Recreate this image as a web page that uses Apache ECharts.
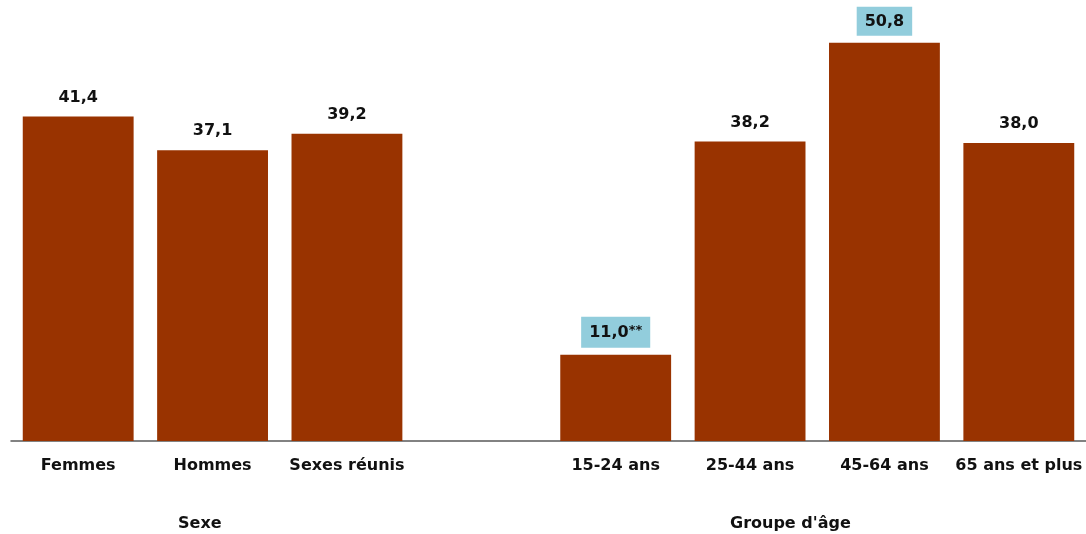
<!DOCTYPE html>
<html>
<head>
<meta charset="utf-8">
<script src="https://cdn.jsdelivr.net/npm/echarts@6/dist/echarts.min.js"></script>
<style>
  html, body { margin: 0; padding: 0; background: #fff; }
  #chart { width: 1086px; height: 534px; }
</style>
</head>
<body>
<div id="chart"></div>
<script>
// catégories (slot vide entre les deux groupes)
const categories = ['Femmes', 'Hommes', 'Sexes réunis', '', '15-24 ans', '25-44 ans', '45-64 ans', '65 ans et plus']
const values = [41.4, 37.1, 39.2, null, 11.0, 38.2, 50.8, 38.0]
// étiquettes surlignées en bleu
const highlighted = [false, false, false, false, true, false, true, false]
const notes = ['', '', '', '', '**', '', '', '']
const groupLabels = ['Sexe', "Groupe d'âge"]

const FONT = 'DejaVu Sans, Verdana, sans-serif'
const chart = echarts.init(document.getElementById('chart'))

const seriesData = values.map((v, i) => {
  const item = { value: v }
  if (highlighted[i]) {
    item.label = {
      backgroundColor: '#92CDDC',
      padding: [7, 8, 6, 8],
      distance: 7
    }
  }
  return item
})

chart.setOption({
  animation: false,
  grid: {
    left: 11,
    right: 0,
    top: 2,
    bottom: 93
  },
  xAxis: {
    type: 'category',
    data: categories,
    axisTick: { show: false },
    axisLine: {
      lineStyle: { color: '#595959', width: 1.5 }
    },
    axisLabel: {
      interval: 0,
      margin: 17,
      color: '#111',
      fontSize: 16,
      fontWeight: 'bold',
      fontFamily: FONT
    }
  },
  yAxis: {
    type: 'value',
    min: 0,
    max: 56,
    show: false
  },
  series: [
    {
      type: 'bar',
      data: seriesData,
      barCategoryGap: '17.5%',
      itemStyle: { color: '#993300' },
      label: {
        show: true,
        position: 'top',
        distance: 11,
        color: '#111',
        fontSize: 16,
        fontWeight: 'bold',
        fontFamily: FONT,
        formatter: p => {
          const txt = p.value.toFixed(1).replace('.', ',')
          const n = notes[p.dataIndex]
          return n ? txt + '{sup|' + n + '}' : txt
        },
        rich: {
          sup: {
            fontSize: 13,
            fontWeight: 'bold',
            fontFamily: FONT,
            color: '#111',
            verticalAlign: 'top',
            padding: [0, 0, 5, 0]
          }
        }
      }
    }
  ],
  graphic: [
    {
      type: 'text',
      left: 178,
      top: 516,
      style: {
        text: groupLabels[0],
        fontSize: 16,
        fontWeight: 'bold',
        fontFamily: FONT,
        fill: '#111'
      }
    },
    {
      type: 'text',
      left: 730,
      top: 516,
      style: {
        text: groupLabels[1],
        fontSize: 16,
        fontWeight: 'bold',
        fontFamily: FONT,
        fill: '#111'
      }
    }
  ]
})
</script>
</body>
</html>
